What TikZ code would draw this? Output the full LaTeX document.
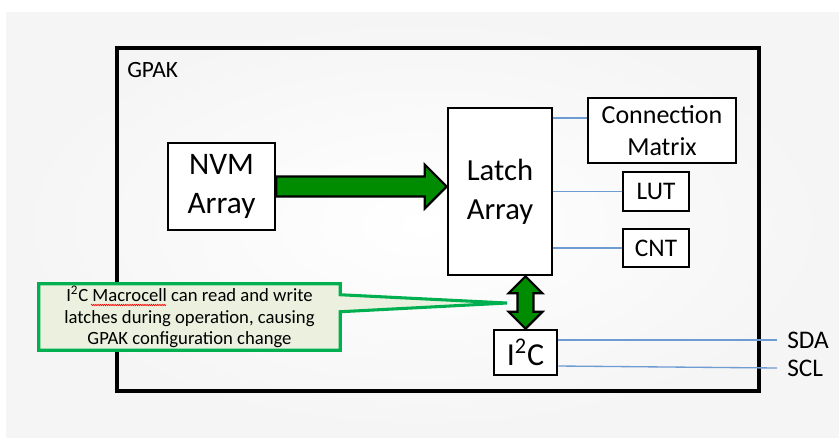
\documentclass[tikz,border=0pt]{standalone}
\usepackage{fontspec}
\setmainfont{Carlito}
\usepackage{tikz}
\usetikzlibrary{calc,backgrounds,decorations.pathmorphing}

\definecolor{arrowgreen}{RGB}{0,140,0}
\definecolor{notegreen}{RGB}{0,176,80}
\definecolor{notefill}{RGB}{235,241,222}
\definecolor{wireblue}{RGB}{110,155,210}
\newdimen\px \px=0.75pt

\begin{document}
\begin{tikzpicture}[x=0.75pt, y=-0.75pt,
    box/.style={draw=black, line width=1.9pt, fill=white, align=center, inner sep=0pt},
    wire/.style={draw=wireblue, line width=1pt},
    fatarrow/.style={draw=black, line width=1.6pt, fill=arrowgreen, line join=miter},
    pinlabel/.style={anchor=west, inner xsep=7.5pt, inner ysep=0pt, font=\fontsize{19}{23}\selectfont}]

\useasboundingbox (0,0) rectangle (839,437);

% slide background and GPAK frame
\begin{scope}[on background layer]
  \fill[white] (0,0) rectangle (839,437);
  \shade[inner color=white, outer color=black!4] (6,12) rectangle (839,437);
  \node[draw, line width=2.3pt, minimum width=642\px, minimum height=343\px] (gpak) at (438,219.5) {};
\end{scope}
\node[anchor=base west, inner sep=0pt, font=\fontsize{17.5}{21}\selectfont] (gpaklabel) at (127,77) {GPAK};

% blocks
\node[box, font=\fontsize{23.5}{29}\selectfont, minimum width=107\px, minimum height=87\px] (nvm) at (221.5,186.5) {NVM\\Array};
\node[box, font=\fontsize{23}{29}\selectfont, minimum width=104\px, minimum height=167\px] (latch) at (500,191.5) {Latch\\Array};
\node[box, font=\fontsize{19.5}{24}\selectfont, minimum width=148\px, minimum height=65\px] (cm) at (662,130.5) {Connection\\Matrix};
\node[box, font=\fontsize{19}{23}\selectfont, minimum width=66\px, minimum height=39\px] (lut) at (656,191.5) {LUT};
\node[box, font=\fontsize{19}{23}\selectfont, minimum width=66\px, minimum height=38\px] (cnt) at (656,248) {CNT};
\node[box, font=\fontsize{24}{29}\selectfont, minimum width=63\px, minimum height=45\px] (i2c) at (525.5,352.5) {I\textsuperscript{2}C};

% wires
\draw[wire] (latch.east |- 0,118) -- (cm.west |- 0,118);
\draw[wire] (latch.east |- lut.west) -- (lut.west);
\draw[wire] (latch.east |- cnt.west) -- (cnt.west);

\node[pinlabel] (sda) at (777,340) {SDA};
\node[pinlabel] (scl) at (777,368) {SCL};
\draw[wire] (i2c.east |- sda.west) -- (sda.west);
\draw[wire] (i2c.east |- 0,366) -- (scl.west);

% note
\node[align=center, inner sep=0pt, font=\fontsize{14}{16}\selectfont, minimum width=301\px, minimum height=66\px] (note) at (189.5,317)
  {I\textsuperscript{2}C Macrocell can read and write\\latches during operation, causing\\GPAK configuration change};
\coordinate (tip) at (507,303);
\begin{scope}[on background layer]
  \draw[notegreen, line width=2.3pt, fill=notefill, line join=miter]
    (note.north west) -- (note.north east) -- ($(note.north east)+(0,11)$) -- (tip)
    -- ($(note.north east)+(0,28)$) -- (note.south east) -- (note.south west) -- cycle;
\end{scope}
\draw[red, line width=0.5pt, decorate, decoration={snake, amplitude=0.5pt, segment length=1.6pt}] (91,305) -- (166,305);

% fat arrows
\coordinate (head) at (latch.west |- nvm.east);
\draw[fatarrow] ($(nvm.east)+(0,-10)$) -- ($(head)+(-22,-10)$) -- ($(head)+(-22,-22)$) -- (head)
  -- ($(head)+(-22,22)$) -- ($(head)+(-22,10)$) -- ($(nvm.east)+(0,10)$) -- cycle;

\coordinate (up) at (i2c.north |- latch.south);
\draw[fatarrow] (up) -- ($(up)+(17,17)$) -- ($(up)+(8,17)$) -- ($(i2c.north)+(8,-17)$) -- ($(i2c.north)+(17,-17)$)
  -- (i2c.north) -- ($(i2c.north)+(-17,-17)$) -- ($(i2c.north)+(-8,-17)$) -- ($(up)+(-8,17)$) -- ($(up)+(-17,17)$) -- cycle;

\end{tikzpicture}
\end{document}
